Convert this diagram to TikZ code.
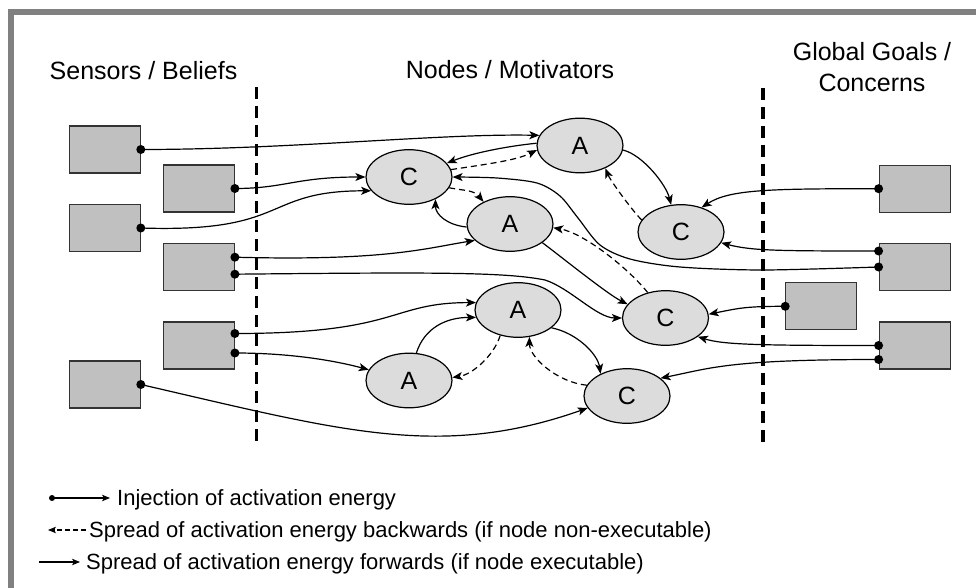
\documentclass[tikz,border=0pt]{standalone}
\usepackage{fontspec}
\setmainfont{Liberation Sans}
\usetikzlibrary{arrows.meta,calc,shapes.geometric}
\definecolor{framegray}{HTML}{808080}
\definecolor{boxfill}{HTML}{C0C0C0}
\definecolor{boxline}{HTML}{333333}
\definecolor{ellfill}{HTML}{DCDCDC}
\begin{document}
\begin{tikzpicture}[x=1pt,y=-1pt,
  sbox/.style={draw=boxline, fill=boxfill, line width=1.2pt, minimum width=71pt, minimum height=47pt, inner sep=0pt},
  mnode/.style={ellipse, draw=black, fill=ellfill, line width=1.2pt, minimum width=86pt, minimum height=54.6pt, inner sep=0pt, font=\fontsize{25}{30}\selectfont},
  conn/.style={line width=1.2pt, -{Stealth[length=10pt,width=8pt,inset=2.5pt]}},
  back/.style={conn, dash pattern=on 6pt off 4pt},
  legconn/.style={line width=1.1pt, -{Stealth[length=8pt,width=6.5pt,inset=2pt]}},
  legback/.style={legconn, dash pattern=on 5pt off 3pt},
  heading/.style={font=\fontsize{25}{30}\selectfont, anchor=base, inner sep=0pt},
  legend/.style={font=\fontsize{22}{26}\selectfont, anchor=base west, inner sep=0pt},
  divider/.style={line width=3.5pt, dash pattern=on 12pt off 7pt}
]
\useasboundingbox (0,0) rectangle (976,588);
\fill[white] (0,0) rectangle (976,588);
\draw[framegray, line width=5.7pt] (11,588) -- (11,12) -- (976,12);

% headings
\node[heading] (h1) at (143.5,80) {Sensors / Beliefs};
\node[heading] (h2) at (510,78.5) {Nodes / Motivators};
\node[heading] (h3a) at (872,61) {Global Goals /};
\node[heading] (h3b) at (872,92) {Concerns};

% dividers
\draw[divider] (256.5,87) -- (256.5,447);
\draw[divider] (763,88) -- (763,447);

% sensor boxes
\node[sbox] (s1) at (104.7,149.5) {};
\node[sbox] (s2) at (198.8,188.5) {};
\node[sbox] (s3) at (104.7,228) {};
\node[sbox] (s4) at (198.8,267.2) {};
\node[sbox] (s5) at (198.8,345.5) {};
\node[sbox] (s6) at (104.7,384.5) {};
% goal boxes
\node[sbox] (g1) at (914.7,188.7) {};
\node[sbox] (g2) at (914.7,267) {};
\node[sbox] (g3) at (821.3,306.3) {};
\node[sbox] (g4) at (914.7,345.5) {};

% motivator nodes
\node[mnode] (c1) at (409,177) {C};
\node[mnode] (a1) at (580,145.5) {A};
\node[mnode] (a2) at (510,224) {A};
\node[mnode] (c2) at (681,232) {C};
\node[mnode] (c3) at (665.5,318) {C};
\node[mnode] (a3) at (518,310) {A};
\node[mnode] (a4) at (409,380.5) {A};
\node[mnode] (c4) at (627,396) {C};

% dot points
\coordinate (s4a) at ($(s4.east)+(0,-10)$);
\coordinate (s4b) at ($(s4.east)+(0,7)$);
\coordinate (s5a) at ($(s5.east)+(0,-12)$);
\coordinate (s5b) at ($(s5.east)+(0,7.5)$);
\coordinate (g2a) at ($(g2.west)+(0,-16)$);
\coordinate (g4b) at ($(g4.west)+(0,14)$);

% injections from sensors
\draw[conn] (s1.east) .. controls +(150,0) and +(-100,-2) .. (a1.166);
\draw[conn] (s2.east) .. controls +(50,0) and +(-70,0) .. (c1.180);
\draw[conn] (s3.east) .. controls +(150,5) and +(-110,0) .. (c1.200);
\draw[conn] (s4a) .. controls +(150,4) and +(-50,8) .. (a2.205);
\draw[conn] (s4b) .. controls +(200,-2) and +(-40,-8) .. (545,280) .. controls +(25,8) and +(-25,0) .. (c3.180);
\draw[conn] (s5a) .. controls +(166,0) and +(-87,0) .. (a3.170);
\draw[conn] (s5b) .. controls +(60,0) and +(-30,-8) .. (a4.165);
\draw[conn] (s6.east) .. controls +(200,46) and +(-148,52) .. (c4.197);

% injections from goals
\draw[conn] (g1.west) .. controls +(-110,0) and +(28,-18) .. (c2.50);
\draw[conn] (g2a) .. controls +(-100,0) and +(30,8) .. (c2.345);
\draw[conn] plot[smooth, tension=0.5] coordinates {(g2.west) (763,270) (680,267) (630,259) (600,245) (578,218) (560,196) (537,183) (497,178) (c1.0)};
\draw[conn] (g3.west) .. controls +(-40,0) and +(30,-6) .. (c3.5);
\draw[conn] (g4.west) .. controls +(-120,0) and +(25,8) .. (c3.330);
\draw[conn] (g4b) .. controls +(-150,0) and +(50,-10) .. (c4.28);

% spreading between nodes
\draw[conn] (a1.177) .. controls +(-30,3) and +(25,-10) .. (c1.20);
\draw[back] (c1.10) .. controls +(40,-6) and +(-20,10) .. (a1.186);
\draw[back] (c1.345) .. controls +(15,3) and +(-10,-12) .. (a2.140);
\draw[conn] (a2.184) .. controls +(-20,-2) and +(0,15) .. (c1.320);
\draw[conn] (a1.354) .. controls +(20,5) and +(-5,-20) .. (c2.110);
\draw[back] (c2.163) .. controls +(-10,-10) and +(5,12) .. (a1.318);
\draw[conn] (a2.330) .. controls +(20,15) and +(-20,-10) .. (c3.160);
\draw[back] (c3.125) .. controls +(-20,-25) and +(30,5) .. (a2.355);
\draw[conn] (a4.75) .. controls +(8,-25) and +(-30,0) .. (a3.190);
\draw[back] (a3.235) .. controls +(-6,20) and +(20,-3) .. (a4.4);
\draw[conn] (a3.332) .. controls +(25,5) and +(-3,-20) .. (c4.140);
\draw[back] (c4.165) .. controls +(-30,-3) and +(0,20) .. (a3.293);

% injection dots
\foreach \p in {s1.east, s2.east, s3.east, s4a, s4b, s5a, s5b, s6.east, g1.west, g2a, g2.west, g3.west, g4.west, g4b}
  \fill (\p) circle[radius=4.5pt];

% legend
\coordinate (l1s) at (52,498);
\coordinate (l1e) at (110,498);
\draw[legconn] (l1s) -- (l1e);
\fill (l1s) circle[radius=3pt];
\node[legend] (t1) at (117,505.5) {Injection of activation energy};
\coordinate (l2s) at (86,530);
\coordinate (l2e) at (48,530);
\draw[legback] (l2s) -- (l2e);
\node[legend] (t2) at (89,537.5) {Spread of activation energy backwards (if node non-executable)};
\coordinate (l3s) at (39,562);
\coordinate (l3e) at (80,562);
\draw[legconn] (l3s) -- (l3e);
\node[legend] (t3) at (86,569.5) {Spread of activation energy forwards (if node executable)};
\end{tikzpicture}
\end{document}
